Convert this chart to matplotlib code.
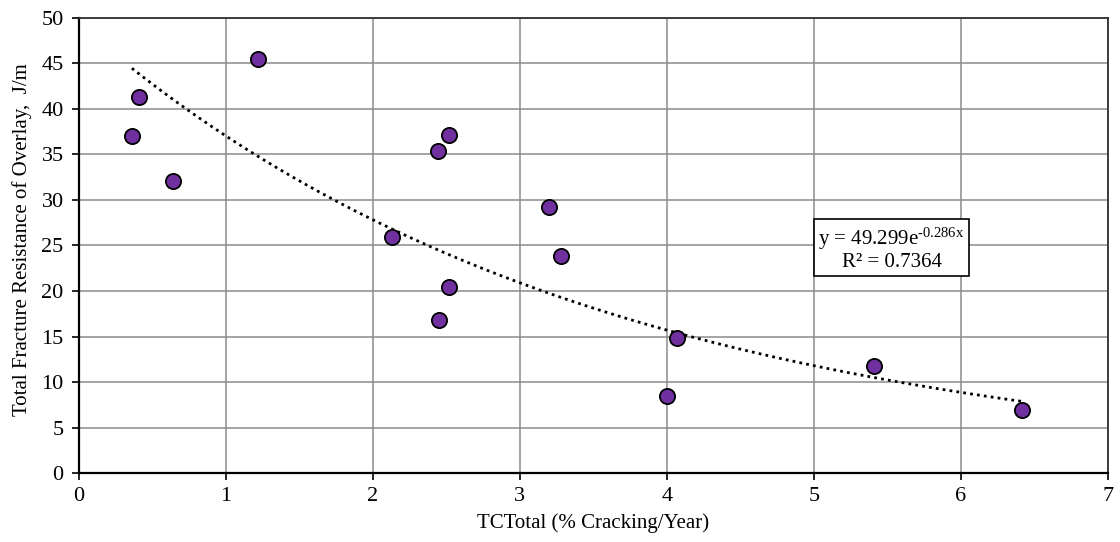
import numpy as np
import matplotlib.pyplot as plt

# values
tc_total = [0.36, 0.41, 0.64, 1.22, 2.13, 2.44, 2.52, 2.45, 2.52, 3.20, 3.28, 4.07, 4.00, 5.41, 6.42]
fracture = [37.0, 41.3, 32.1, 45.5, 25.9, 35.4, 37.1, 16.8, 20.4, 29.2, 23.9, 14.8, 8.5, 11.8, 6.9]

fit_a = 49.299
fit_b = -0.286
fit_r2 = 0.7364

x_ticks = np.arange(0, 8, 1)
y_ticks = np.arange(0, 51, 5)

plt.rcParams.update({
    "font.family": ["Liberation Serif", "DejaVu Serif"],
    "font.size": 15,
    "mathtext.fontset": "custom",
    "mathtext.rm": "Liberation Serif",
    "mathtext.it": "Liberation Serif:italic",
})

fig = plt.figure(figsize=(11.2, 5.42), dpi=100)
ax = fig.add_axes([0.0705, 0.1273, 0.9185, 0.8395])

ax.grid(True, color="#8c8c8c", linewidth=1.1)
ax.set_axisbelow(True)

# exponential trendline over the data range
xs = np.linspace(min(tc_total), max(tc_total), 200)
ax.plot(xs, fit_a * np.exp(fit_b * xs), color="black", linestyle=(0, (1, 1.5)),
        linewidth=2.0, zorder=2)

ax.scatter(tc_total, fracture, s=120, color="#7030A0", edgecolors="black",
           linewidths=1.3, zorder=3)

ax.set_xlim(0, 7)
ax.set_ylim(0, 50)
ax.set_xticks(x_ticks)
ax.set_yticks(y_ticks)
ax.tick_params(direction="out", length=5, width=1.2, labelsize=16)
ax.tick_params(axis="y", pad=6)
ax.tick_params(axis="x", pad=5)

for side in ["left", "bottom"]:
    ax.spines[side].set_linewidth(1.6)
    ax.spines[side].set_color("black")
for side in ["top", "right"]:
    ax.spines[side].set_linewidth(1.3)
    ax.spines[side].set_color("#303030")

ax.set_xlabel("TCTotal (% Cracking/Year)", fontsize=15, labelpad=5)
ax.set_ylabel("Total Fracture Resistance of Overlay,  J/m", fontsize=15)
ax.yaxis.set_label_coords(-0.046, 0.512)

eq = f"y = {fit_a:.3f}e$^{{\\mathregular{{\u2010{abs(fit_b):.3f}x}}}}$\nR\u00b2 = {fit_r2:.4f}"
ax.text(5.53, 24.65, eq,
        ha="center", va="center", fontsize=15, linespacing=1.05,
        bbox=dict(boxstyle="square,pad=0.2", facecolor="white",
                  edgecolor="black", linewidth=1.2),
        zorder=4)

fig.savefig("out.png", dpi=100)
